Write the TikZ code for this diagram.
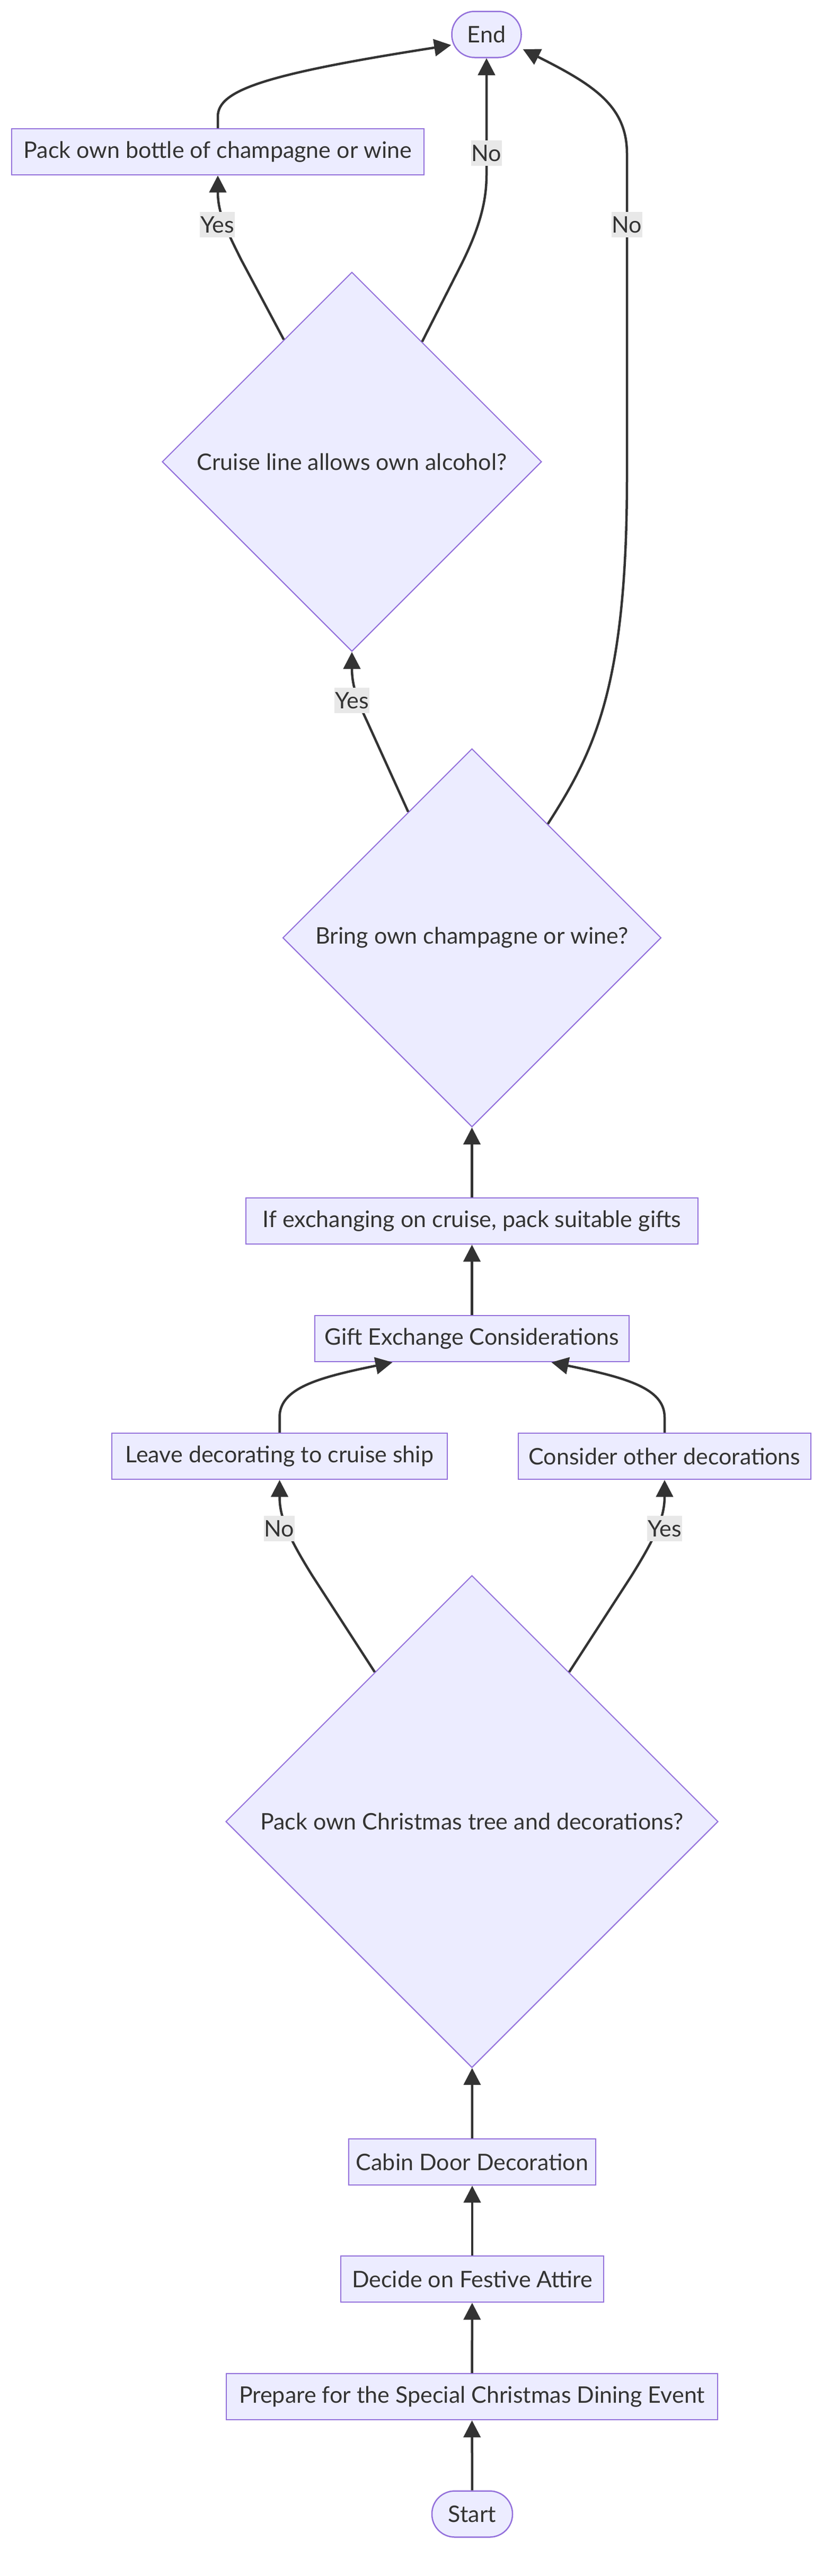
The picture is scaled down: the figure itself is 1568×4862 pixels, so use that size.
\documentclass[tikz,border=0pt]{standalone}
\usepackage{fontspec}
\setmainfont{Lato}
\usetikzlibrary{shapes.geometric,arrows.meta,calc}
\definecolor{nodefill}{HTML}{ECECFF}
\definecolor{nodeline}{HTML}{9370DB}
\definecolor{ink}{HTML}{333333}
\definecolor{lblbg}{HTML}{E8E8E8}
\begin{document}
\begin{tikzpicture}[x=1pt,y=-1pt,
  every node/.style={font=\fontsize{43}{50}\selectfont, text=ink},
  proc/.style={draw=nodeline, fill=nodefill, line width=2.5pt, rectangle, minimum height=87pt, inner sep=0pt},
  term/.style={draw=nodeline, fill=nodefill, line width=2.5pt, rectangle, rounded corners=43pt, minimum height=87pt, inner sep=0pt},
  decision/.style={draw=nodeline, fill=nodefill, line width=2pt, diamond, inner sep=0pt},
  flow/.style={draw=ink, line width=4.5pt, -{Triangle[length=32pt,width=32pt]}},
  lbl/.style={fill=lblbg, inner xsep=1pt, inner ysep=0pt, minimum height=48pt}
]
\useasboundingbox (0,0) rectangle (1568,4862);
% nodes
\node[term, minimum width=131pt] (end) at (918,65) {End};
\node[proc, minimum width=778pt] (pack) at (411,286.5) {Pack own bottle of champagne or wine};
\node[decision, minimum width=716pt, minimum height=716pt] (cruise) at (664,871.5) {Cruise line allows own alcohol?};
\node[decision, minimum width=714pt, minimum height=714pt] (bring) at (890.5,1770) {Bring own champagne or wine?};
\node[proc, minimum width=853pt] (ifx) at (890.5,2304.5) {If exchanging on cruise, pack suitable gifts};
\node[proc, minimum width=593pt] (gift) at (890.5,2526.5) {Gift Exchange Considerations};
\node[proc, minimum width=633pt] (leave) at (527.5,2748.5) {Leave decorating to cruise ship};
\node[proc, minimum width=552pt] (consider) at (1254,2748.5) {Consider other decorations};
\node[decision, minimum width=929pt, minimum height=929pt] (tree) at (890.5,3438) {Pack own Christmas tree and decorations?};
\node[proc, minimum width=466pt] (cabin) at (891,4080.5) {Cabin Door Decoration};
\node[proc, minimum width=496pt] (attire) at (891,4301.5) {Decide on Festive Attire};
\node[proc, minimum width=927pt] (prep) at (890.5,4523.5) {Prepare for the Special Christmas Dining Event};
\node[term, minimum width=152pt] (start) at (891,4745) {Start};
% edge end points on diamond borders
\coordinate (tL) at ($(tree.north)!0.394!(tree.west)$);
\coordinate (tR) at ($(tree.north)!0.394!(tree.east)$);
\coordinate (bY) at ($(bring.north)!0.336!(bring.west)$);
\coordinate (bN) at ($(bring.north)!0.40!(bring.east)$);
\coordinate (cY) at ($(cruise.north)!0.358!(cruise.west)$);
\coordinate (cN) at ($(cruise.north)!0.369!(cruise.east)$);
% edges
\draw[flow] (start) -- (prep);
\draw[flow] (prep) -- (attire);
\draw[flow] (attire) -- (cabin);
\draw[flow] (cabin) -- (tree);
\draw[flow] (tL) -- (590,2975) .. controls (540,2895) and (527.5,2860) .. (leave.south);
\draw[flow] (tR) -- (1191,2975) .. controls (1241,2895) and (1254,2860) .. (consider.south);
\draw[flow] (leave.north) -- (527.5,2675) .. controls (527.5,2620) and (600,2600) .. ($(gift.south)+(-150,0)$);
\draw[flow] (consider.north) -- (1254,2675) .. controls (1254,2620) and (1181,2600) .. ($(gift.south)+(150,0)$);
\draw[flow] (gift) -- (ifx);
\draw[flow] (ifx) -- (bring);
\draw[flow] (bY) -- (692,1360) .. controls (672,1318) and (664,1290) .. (cruise.south);
\draw[flow] (bN) .. controls (1120,1420) and (1183,1300) .. (1183,900) -- (1183,290) .. controls (1183,200) and (1120,160) .. ($(end.east)+(2,28)$);
\draw[flow] (cY) -- (455,490) .. controls (425,430) and (411,400) .. (pack.south);
\draw[flow] (cN) -- (870,500) .. controls (905,430) and (918,380) .. (918,330) -- (end.south);
\draw[flow] (pack.north) -- (411,220) .. controls (411,170) and (500,140) .. ($(end.west)+(0,20)$);
% edge labels
\node[lbl] (lbY1) at (410,424) {Yes};
\node[lbl] (lcN1) at (918,289) {No};
\node[lbl] (lbN2) at (1183,424) {No};
\node[lbl] (lbY2) at (664,1322) {Yes};
\node[lbl] (ltN) at (527,2885) {No};
\node[lbl] (ltY) at (1254,2885) {Yes};
\end{tikzpicture}
\end{document}
